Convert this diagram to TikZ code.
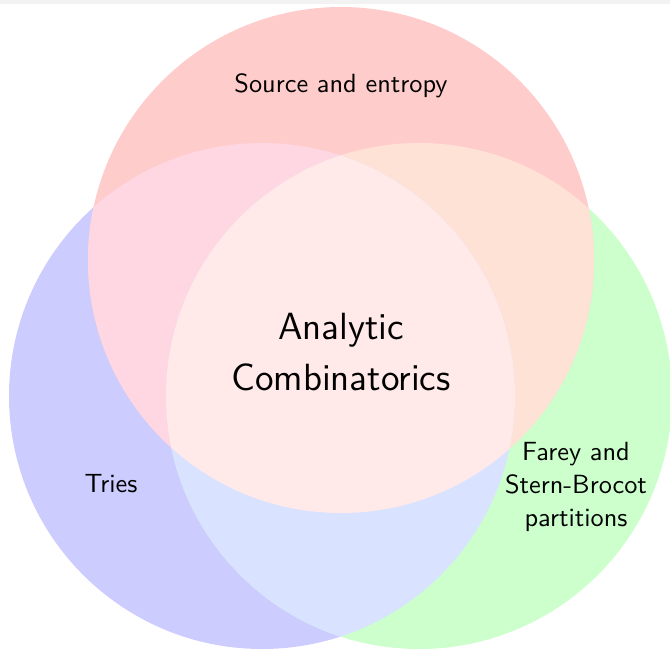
\documentclass[tikz,border=0pt]{standalone}
\definecolor{topgray}{HTML}{F2F2F2}
\definecolor{cblue}{HTML}{CCCCFF}
\definecolor{cgreen}{HTML}{CCFFCC}
\definecolor{cred}{HTML}{FFCCCC}
\definecolor{cbr}{HTML}{FFD7E3}
\definecolor{crg}{HTML}{FFE2D6}
\definecolor{cbg}{HTML}{D9E3FF}
\definecolor{ctri}{HTML}{FFE9E9}
\begin{document}
\begin{tikzpicture}[x=0.38pt,y=-0.38pt,
  lbl/.style={font=\sffamily, align=center, inner sep=0pt},
  setcircle/.style={radius=96.14pt}]
\useasboundingbox (0,0) rectangle (670,649);
\fill[topgray] (0,0) rectangle (670,4);
\coordinate (R) at (341,260);
\coordinate (B) at (262,396);
\coordinate (G) at (419,396);
\fill[cblue] (B) circle[setcircle];
\fill[cgreen] (G) circle[setcircle];
\fill[cred] (R) circle[setcircle];
\begin{scope}
  \clip (B) circle[setcircle];
  \fill[cbr] (R) circle[setcircle];
\end{scope}
\begin{scope}
  \clip (G) circle[setcircle];
  \fill[crg] (R) circle[setcircle];
\end{scope}
\begin{scope}
  \clip (B) circle[setcircle];
  \fill[cbg] (G) circle[setcircle];
\end{scope}
\begin{scope}
  \clip (B) circle[setcircle];
  \clip (G) circle[setcircle];
  \fill[ctri] (R) circle[setcircle];
\end{scope}
\node[lbl] (src) at (341,86) {Source and entropy};
\node[lbl, font=\sffamily\Large] (ac) at (341,352) {Analytic\\[1.2pt]Combinatorics};
\node[lbl] (tries) at (111,484) {Tries};
\node[lbl] (farey) at (576,487) {Farey and\\[0.4pt]Stern-Brocot\\[0.4pt]partitions};
\end{tikzpicture}
\end{document}
